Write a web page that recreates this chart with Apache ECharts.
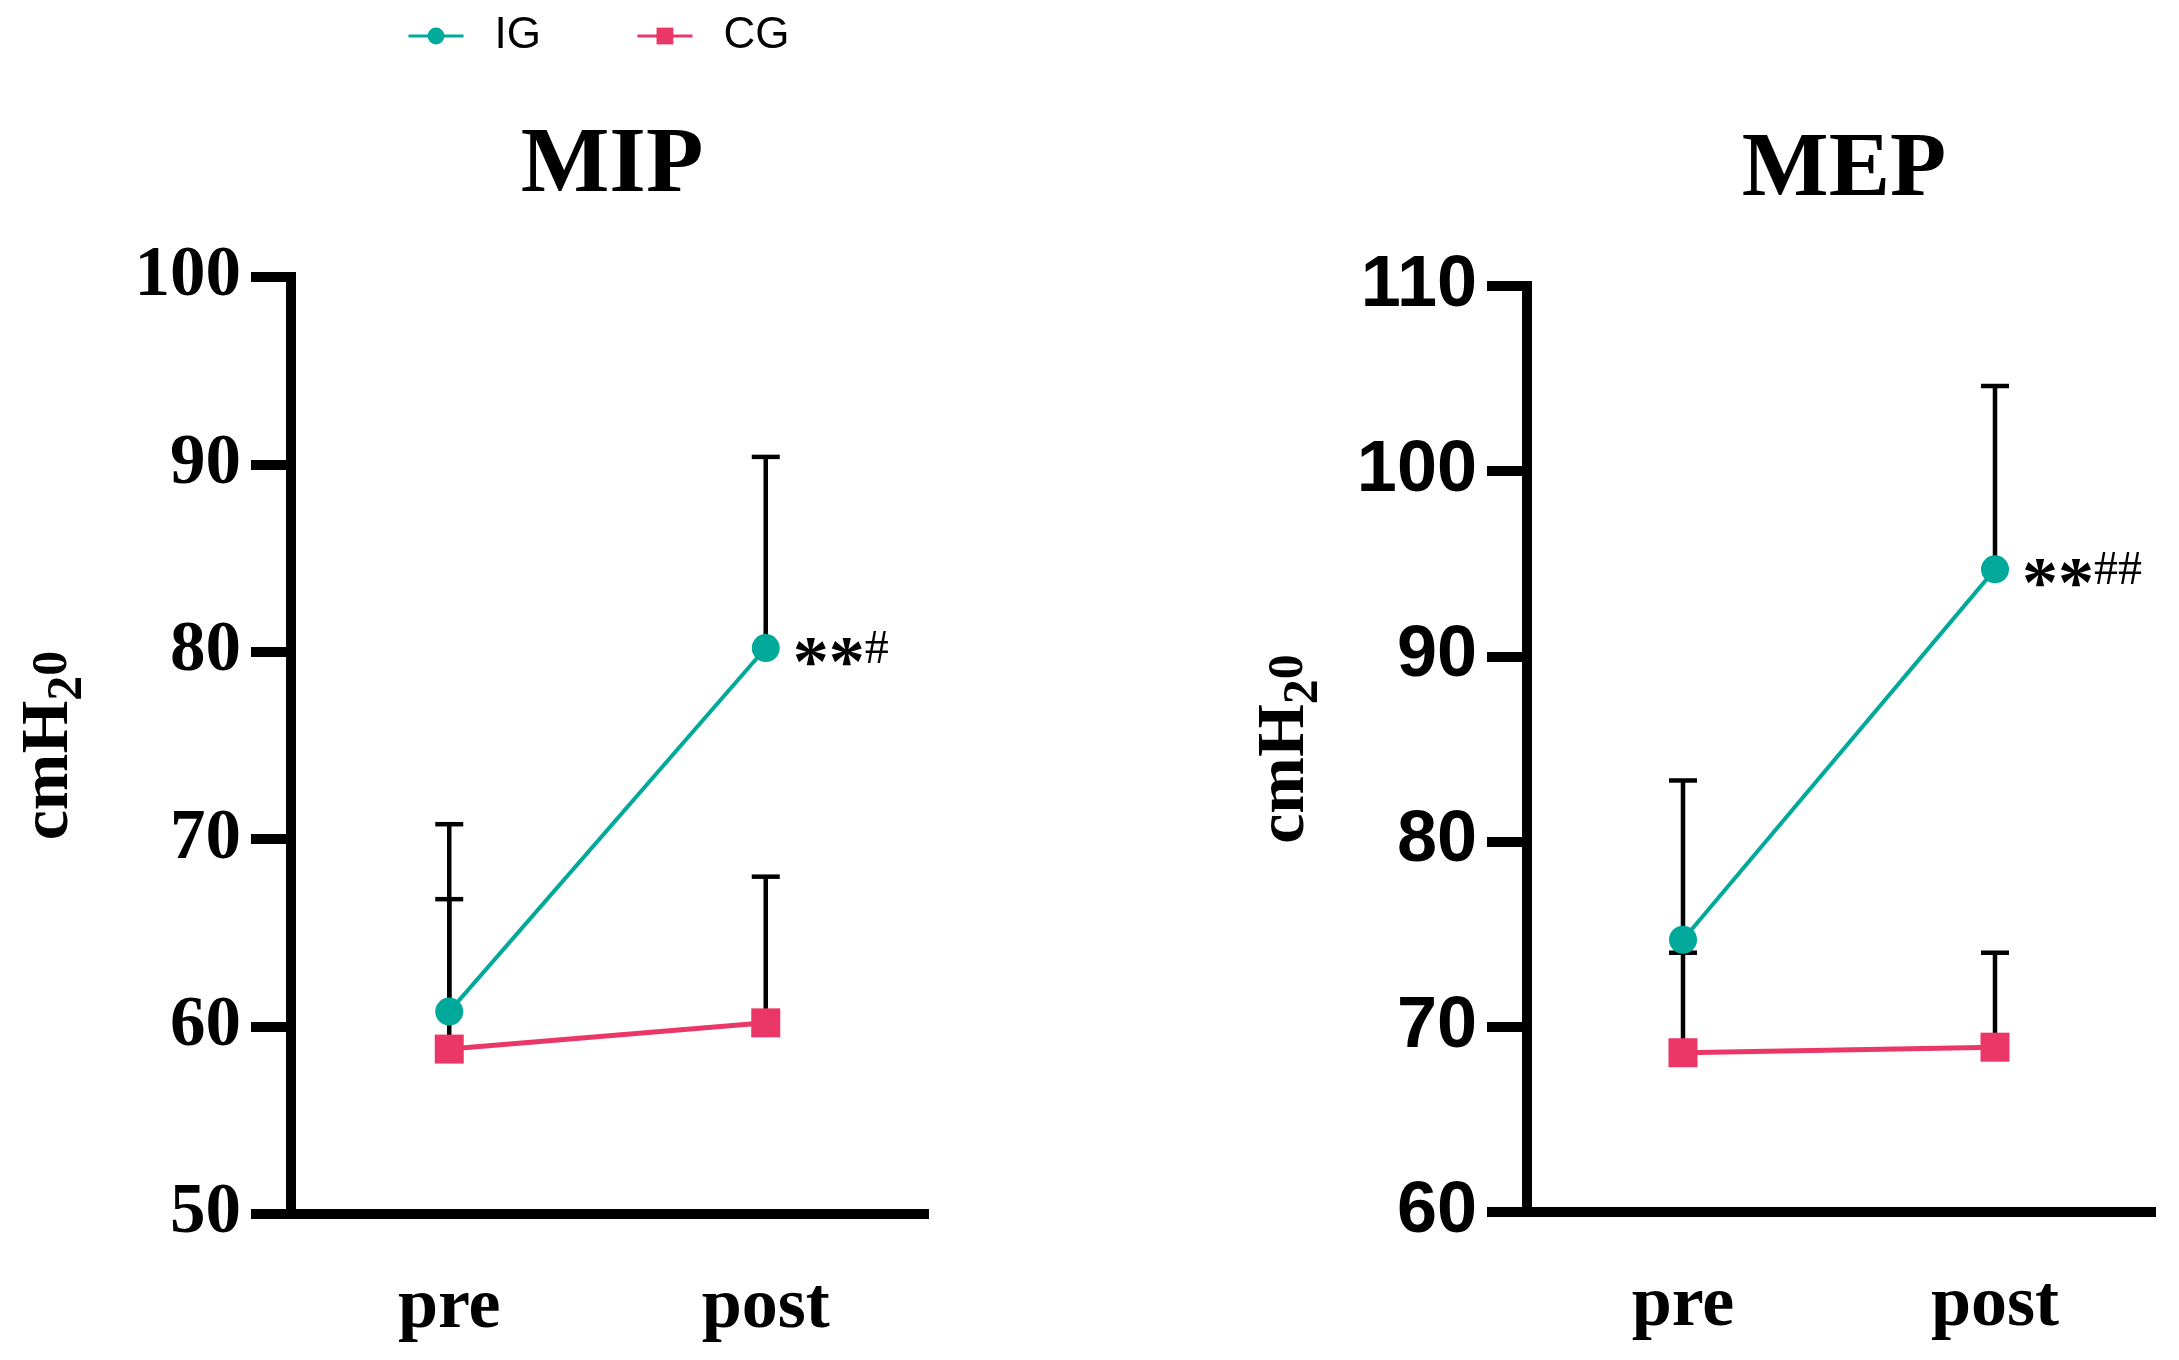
<!DOCTYPE html>
<html>
<head>
<meta charset="utf-8">
<script src="https://cdn.jsdelivr.net/npm/echarts@6/dist/echarts.min.js"></script>
<style>
html,body{margin:0;padding:0;background:#fff;}
#c{width:2179px;height:1360px;}
</style>
</head>
<body>
<div id="c"></div>
<script>
// ---- data ----
var categories = ['pre', 'post'];
var mipIG = [60.8, 80.2];
var mipIGsd = [10.0, 10.2];
var mipCG = [58.8, 60.2];
var mipCGsd = [8.0, 7.8];
var mepIG = [74.7, 94.7];
var mepIGsd = [8.6, 9.9];
var mepCG = [68.6, 68.9];
var mepCGsd = [5.4, 5.1];
var mipStars = ['', '**'];
var mipHash = ['', '#'];
var mepStars = ['', '**'];
var mepHash = ['', '##'];
var mipTicks = [50, 60, 70, 80, 90, 100];
var mepTicks = [60, 70, 80, 90, 100, 110];

var TEAL = '#00A99A';
var PINK = '#EB3768';
var SERIF = 'Liberation Serif';
var SANS = 'Liberation Sans';

function errData(mean, sd) {
  return mean.map(function (m, i) { return [i, m, m + sd[i]]; });
}
function errRender(params, api) {
  var x = api.value(0), y = api.value(1), top = api.value(2);
  var p0 = api.coord([x, y]);
  var p1 = api.coord([x, top]);
  var hw = 14;
  return {
    type: 'group',
    children: [
      { type: 'line', shape: { x1: p0[0], y1: p0[1], x2: p1[0], y2: p1[1] }, style: { stroke: '#000', lineWidth: 4.5 } },
      { type: 'line', shape: { x1: p1[0] - hw, y1: p1[1], x2: p1[0] + hw, y2: p1[1] }, style: { stroke: '#000', lineWidth: 4.5 } }
    ]
  };
}
function markLabel(stars, hash) {
  return {
    show: true,
    position: 'right',
    distance: 13,
    offset: [0, 18],
    formatter: function (p) {
      return stars[p.dataIndex] ? '{s|' + stars[p.dataIndex] + '}{h|' + hash[p.dataIndex] + '}' : '';
    },
    rich: {
      s: { fontFamily: SERIF, fontWeight: 'bold', fontSize: 72, lineHeight: 80, color: '#000' },
      h: { fontFamily: SERIF, fontWeight: 'normal', fontSize: 48, verticalAlign: 'top', color: '#000' }
    }
  };
}
var nameRich = {
  a: { fontFamily: SERIF, fontWeight: 'bold', fontSize: 68, lineHeight: 88, color: '#000' },
  b: { fontFamily: SERIF, fontWeight: 'bold', fontSize: 50, verticalAlign: 'bottom', color: '#000' },
  c: { fontFamily: SERIF, fontWeight: 'bold', fontSize: 50, verticalAlign: 'bottom', padding: [0, 0, 15, 0], color: '#000' }
};
function xAxisCfg(idx) {
  return {
    type: 'category', gridIndex: idx, data: categories, boundaryGap: true,
    axisLine: { lineStyle: { color: '#000', width: 10, cap: 'square' } },
    axisTick: { alignWithLabel: true, length: 40, lineStyle: { color: '#000', width: 9 } },
    axisLabel: { margin: 58, color: '#000', fontFamily: SERIF, fontWeight: 'bold', fontSize: 72 },
    splitLine: { show: false }
  };
}
function yAxisCfg(idx, ticks, labelFont, labelSize) {
  return {
    type: 'value', gridIndex: idx,
    min: ticks[0], max: ticks[ticks.length - 1], interval: ticks[1] - ticks[0],
    name: '{a|cmH}{b|2}{c|0}',
    nameLocation: 'middle', nameRotate: 90, nameGap: 198,
    nameTextStyle: { rich: nameRich },
    axisLine: { show: true, lineStyle: { color: '#000', width: 10, cap: 'square' } },
    axisTick: { show: true, length: 40, lineStyle: { color: '#000', width: 10 } },
    axisLabel: { margin: 50, color: '#000', fontFamily: labelFont, fontWeight: 'bold', fontSize: labelSize },
    splitLine: { show: false }
  };
}

var chart = echarts.init(document.getElementById('c'), null, { renderer: 'canvas' });
chart.setOption({
  backgroundColor: '#fff',
  animation: false,
  title: [
    { text: 'MIP', left: 607, top: 115, textAlign: 'center', textStyle: { fontFamily: SERIF, fontWeight: 'bold', fontSize: 94, color: '#000' } },
    { text: 'MEP', left: 1839, top: 120, textAlign: 'center', textStyle: { fontFamily: SERIF, fontWeight: 'bold', fontSize: 92, color: '#000' } }
  ],
  legend: {
    data: ['IG', 'CG'],
    left: 407, top: 14, padding: 0,
    itemWidth: 55, itemHeight: 21, itemGap: 95,
    lineStyle: { width: 3 },
    textStyle: { fontFamily: SANS, fontSize: 44, color: '#000', padding: [0, 0, 0, 26] }
  },
  grid: [
    { left: 291, top: 277, width: 633, height: 937 },
    { left: 1527, top: 286, width: 624, height: 926 }
  ],
  xAxis: [xAxisCfg(0), xAxisCfg(1)],
  yAxis: [yAxisCfg(0, mipTicks, SERIF, 71), yAxisCfg(1, mepTicks, SANS, 72)],
  series: [
    { type: 'custom', xAxisIndex: 0, yAxisIndex: 0, z: 1, renderItem: errRender, data: errData(mipIG, mipIGsd), silent: true },
    { type: 'custom', xAxisIndex: 0, yAxisIndex: 0, z: 1, renderItem: errRender, data: errData(mipCG, mipCGsd), silent: true },
    { type: 'custom', xAxisIndex: 1, yAxisIndex: 1, z: 1, renderItem: errRender, data: errData(mepIG, mepIGsd), silent: true },
    { type: 'custom', xAxisIndex: 1, yAxisIndex: 1, z: 1, renderItem: errRender, data: errData(mepCG, mepCGsd), silent: true },
    { name: 'CG', type: 'line', xAxisIndex: 0, yAxisIndex: 0, z: 3, data: mipCG, symbol: 'rect', symbolSize: 29,
      itemStyle: { color: PINK }, lineStyle: { color: PINK, width: 5 } },
    { name: 'IG', type: 'line', xAxisIndex: 0, yAxisIndex: 0, z: 4, data: mipIG, symbol: 'circle', symbolSize: 28,
      itemStyle: { color: TEAL }, lineStyle: { color: TEAL, width: 4 }, label: markLabel(mipStars, mipHash) },
    { name: 'CG', type: 'line', xAxisIndex: 1, yAxisIndex: 1, z: 3, data: mepCG, symbol: 'rect', symbolSize: 29,
      itemStyle: { color: PINK }, lineStyle: { color: PINK, width: 5 } },
    { name: 'IG', type: 'line', xAxisIndex: 1, yAxisIndex: 1, z: 4, data: mepIG, symbol: 'circle', symbolSize: 28,
      itemStyle: { color: TEAL }, lineStyle: { color: TEAL, width: 4 }, label: markLabel(mepStars, mepHash) }
  ]
});
</script>
</body>
</html>
